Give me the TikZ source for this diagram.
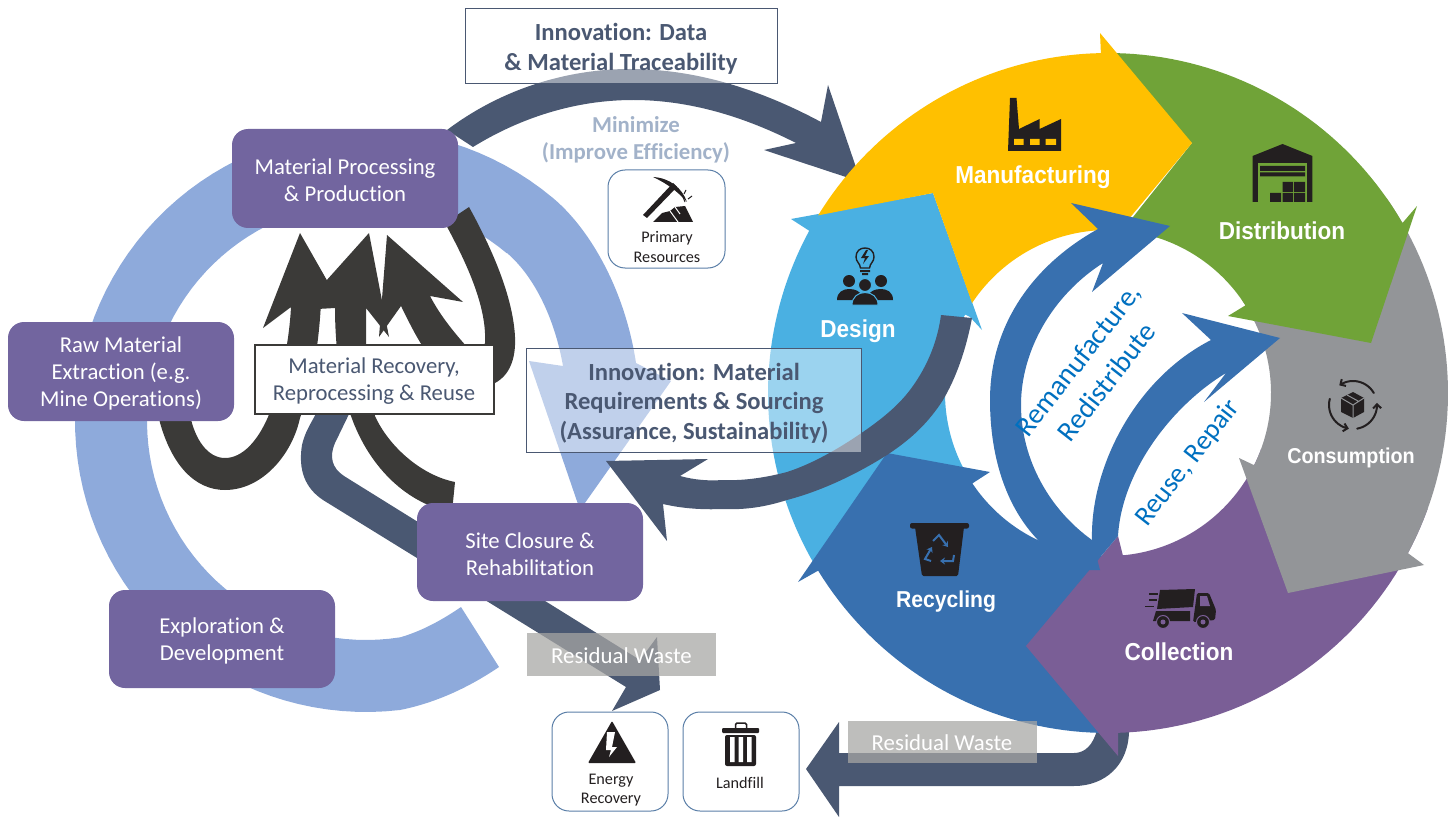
\documentclass[tikz,border=0pt]{standalone}
\usepackage{fontspec}
\setmainfont[Ligatures=NoCommon]{Carlito}
\newfontfamily\labfont[FakeStretch=0.92]{Liberation Sans}
\usetikzlibrary{arrows.meta}
\definecolor{cyellow}{HTML}{FFC000}
\definecolor{cgreen}{HTML}{70A338}
\definecolor{cgray}{HTML}{939598}
\definecolor{cpurple}{HTML}{7A5E96}
\definecolor{cblue}{HTML}{3870AF}
\definecolor{clight}{HTML}{4AB0E2}
\definecolor{slate}{HTML}{4A5872}
\definecolor{darkarrow}{HTML}{3B3A38}
\definecolor{boxpurple}{HTML}{72659F}
\definecolor{ringblue}{HTML}{8EAADB}
\definecolor{iconblack}{HTML}{231F20}
\definecolor{outlineblue}{HTML}{5B7FA8}
\definecolor{minblue}{HTML}{A2B2C9}
\definecolor{rotblue}{HTML}{0070C0}
\definecolor{wastegray}{HTML}{A7A6A4}
\tikzset{
  pbox/.style={fill=boxpurple,rounded corners=16pt,inner sep=0pt},
  ptxt/.style={text=white,align=center,font=\fontsize{22.7}{27}\selectfont,inner sep=0pt},
  resbox/.style={draw=outlineblue,line width=1pt,fill=white,rounded corners=17pt,inner sep=0pt},
  smalltxt/.style={text=iconblack,align=center,font=\fontsize{16.2}{19.5}\selectfont,inner sep=0pt},
  glassbox/.style={draw=slate,line width=1pt,fill=white,fill opacity=.45,text opacity=1,inner sep=0pt},
  innov/.style={text=slate,align=center,inner sep=0pt,font=\bfseries\fontsize{24.6}{29.5}\selectfont},
  waste/.style={fill=wastegray,fill opacity=.735,inner sep=0pt},
  wastetxt/.style={text=white,inner sep=0pt,font=\fontsize{22.8}{25}\selectfont},
  lab/.style={text=white,inner sep=0pt,font=\labfont\bfseries\fontsize{24.5}{28}\selectfont},
  rottxt/.style={text=rotblue,align=center,inner sep=0pt,font=\fontsize{28.5}{36}\selectfont},
  ic/.style={fill=iconblack},
}
\begin{document}
\begin{tikzpicture}[x=1pt,y=-1pt]
\useasboundingbox (0,0) rectangle (1455,818);
% ---- left side arrows
\fill[slate] (447,130) .. controls (500,90) and (565,69) .. (630,69) .. controls (700,69) and (765,92) .. (821,122) -- (828,85) -- (861,182) -- (764,150) -- (796,143) .. controls (745,117) and (690,100) .. (633,100) .. controls (575,100) and (520,118) .. (473,147) -- cycle;
\fill[ringblue] (499,667) .. controls (468,688) and (435,703) .. (400,710) -- plot[domain=83.3:310,samples=80] ({366+291*cos(\x)},{421+291*sin(\x)}) .. controls (590,229) and (625,290) .. (636,363) -- (671,381) -- (580,510) -- (529,361) -- (563,366) .. controls (555,320) and (535,277) .. (507,253) -- plot[domain=310:81,samples=80] ({366+219*cos(\x)},{421+219*sin(\x)}) .. controls (422,631) and (442,620) .. (461,607) -- cycle;
% residual arrow left
\fill[slate] (351,410) -- (335,443) .. controls (329,457) and (332,468) .. (344,476) -- (640,660) -- (657,637) -- (660,690) -- (612,711) -- (626,687) -- (323,500) .. controls (305,488) and (298,470) .. (302,445) .. controls (305,432) and (310,425) .. (318,410) -- cycle;
% dark recovery arrows
\fill[darkarrow] (158,415) .. controls (170,465) and (195,490) .. (225,490) .. controls (262,490) and (292,455) .. (300,418) .. controls (312,385) and (319,345) .. (321,302) -- (345,312) -- (300,233) -- (263,328) -- (291,307) .. controls (289,345) and (280,385) .. (268,417) .. controls (258,440) and (243,458) .. (225,458) .. controls (208,458) and (195,440) .. (190,415) -- cycle;
\fill[darkarrow] (452,512) .. controls (410,505) and (370,470) .. (351,416) .. controls (340,390) and (335,345) .. (335,308) -- (300,310) -- (369,233) -- (389,337) -- (366,308) -- (366,343) .. controls (366,375) and (370,400) .. (375,416) .. controls (388,445) and (420,475) .. (455,482) -- cycle;
\fill[darkarrow] (425,350) .. controls (415,335) and (408,320) .. (401,306) -- (379,337) -- (387,235) -- (463,302) -- (430,296) .. controls (440,315) and (452,330) .. (467,347) -- cycle;
\fill[darkarrow] (445,223) .. controls (465,260) and (487,305) .. (485,343) -- (470,385) -- (495,383) .. controls (510,375) and (516,358) .. (515,337) .. controls (513,295) and (490,245) .. (469,207) -- cycle;
% ---- right wheel: residual arrow beneath
\fill[slate] (1097,730) .. controls (1093,745) and (1085,753) .. (1074,753) -- (839,753) -- (839,722) -- (806,769) -- (839,817) -- (839,786) -- (1074,786) .. controls (1105,786) and (1129,765) .. (1129,730) -- cycle;
% light blue: Design
\fill[clight] plot[domain=150:208.5,samples=40] ({1108+340*cos(\x)},{393+340*sin(\x)}) -- (791,219) -- (933,193) -- (982,330) -- (970,317) -- plot[domain=208.8:150,samples=40] ({1108+163*cos(\x)},{393+163*sin(\x)}) -- cycle;
% blue: Recycling
\fill[cblue] plot[domain=88:148.5,samples=40] ({1108+340*cos(\x)},{393+340*sin(\x)}) -- (798,582) -- (887,453) -- (990,472) -- (973,483) -- plot[domain=146.3:84,samples=40] ({1108+163*cos(\x)},{393+163*sin(\x)}) -- cycle;
% purple: Collection
\fill[cpurple] plot[domain=20:88.3,samples=40] ({1108+340*cos(\x)},{393+340*sin(\x)}) -- (1118,756) -- (1026,646) -- (1118,536) -- (1123,556) -- plot[domain=84.7:20,samples=40] ({1108+163*cos(\x)},{393+163*sin(\x)}) -- cycle;
% gray: Consumption
\fill[cgray] plot[domain=-35:28.1,samples=40] ({1108+340*cos(\x)},{393+340*sin(\x)}) -- (1424,565) -- (1288,593) -- (1239,458) -- (1258,467) -- plot[domain=26.3:-35,samples=40] ({1108+163*cos(\x)},{393+163*sin(\x)}) -- cycle;
% green: Distribution
\fill[cgreen] plot[domain=268:330,samples=40] ({1108+340*cos(\x)},{393+340*sin(\x)}) -- (1417,206) -- (1371,343) -- (1228,316) -- (1246,305) -- plot[domain=327.8:275,samples=40] ({1108+163*cos(\x)},{393+163*sin(\x)}) -- (1192,143) -- (1115,100) -- cycle;
% yellow: Manufacturing
\fill[cyellow] plot[domain=211.5:268.8,samples=40] ({1108+340*cos(\x)},{393+340*sin(\x)}) -- (1100,33) -- (1192,143) -- (1118,232) -- (1101,230) -- plot[domain=267.5:213.5,samples=40] ({1108+163*cos(\x)},{393+163*sin(\x)}) -- (933,193) -- cycle;
% inner arrows
\fill[cblue] (1060,570) -- (1037,539) .. controls (1005,505) and (990,455) .. (990,400) .. controls (990,325) and (1033,265) .. (1098,229) -- (1071,203) -- (1170,226) -- (1092,292) -- (1103,263) .. controls (1053,295) and (1021,350) .. (1021,405) .. controls (1021,460) and (1050,510) .. (1092,540) -- (1100,570) -- cycle;
\fill[cblue] (1092,567) -- (1092,540) .. controls (1090,470) and (1133,380) .. (1211,340) -- (1182,313) -- (1280,338) -- (1204,402) -- (1226,373) .. controls (1173,405) and (1122,470) .. (1118,536) -- cycle;
% arrow from Design
\fill[slate] (972,318) .. controls (966,350) and (956,378) .. (943,400) .. controls (925,428) and (905,443) .. (887,455) .. controls (860,472) and (825,490) .. (787,500) .. controls (765,507) and (745,510) .. (723,509) .. controls (700,510) and (680,508) .. (663,504) -- (667,541) -- (606,461) -- (708,459) -- (680,476) .. controls (695,480) and (708,481) .. (723,480) .. controls (745,481) and (768,477) .. (787,472) .. controls (815,463) and (845,445) .. (870,427) .. controls (888,414) and (900,403) .. (910,390) .. controls (925,370) and (937,345) .. (941,315) -- cycle;
% ---- boxes
\node[pbox,minimum width=226pt,minimum height=99pt] (proc) at (345,178.5) {};
\node[ptxt] (proct) at (345,180) {Material Processing\\\& Production};
\node[pbox,minimum width=226pt,minimum height=99pt] (raw) at (121,371.5) {};
\node[ptxt] (rawt) at (121,373.5) {Raw Material\\Extraction (e.g.\\Mine Operations)};
\node[pbox,minimum width=226pt,minimum height=98pt] (site) at (530,552) {};
\node[ptxt] (sitet) at (530,554) {Site Closure \&\\Rehabilitation};
\node[pbox,minimum width=226pt,minimum height=98pt] (expl) at (222,639) {};
\node[ptxt] (explt) at (222,641) {Exploration \&\\Development};
\node[draw=darkarrow,line width=1.5pt,fill=white,inner sep=0pt,minimum width=239pt,minimum height=69pt] (recov) at (374.5,379.5) {};
\node[ptxt,text=slate] (recovt) at (374,381.5) {Material Recovery,\\Reprocessing \& Reuse};
\node[glassbox,minimum width=312pt,minimum height=75pt] (inno1) at (621.5,46.5) {};
\node[innov] (inno1t) at (621,49) {Innovation: Data\\\& Material Traceability};
\node[glassbox,minimum width=335pt,minimum height=104pt] (inno2) at (693.5,400) {};
\node[innov] (inno2t) at (694,403) {Innovation: Material\\Requirements \& Sourcing\\(Assurance, Sustainability)};
\node[text=minblue,align=center,inner sep=0pt,font=\bfseries\fontsize{22.8}{27}\selectfont] (mini) at (636,139.5) {Minimize\\(Improve Efficiency)};
\node[resbox,minimum width=117pt,minimum height=98pt] (prim) at (666.5,219) {};
\node[smalltxt] (primt) at (667,247) {Primary\\Resources};
\node[resbox,minimum width=116pt,minimum height=99pt] (ener) at (610,761.5) {};
\node[smalltxt,font=\fontsize{16.2}{18.5}\selectfont] (enert) at (611,790) {Energy\\Recovery};
\node[resbox,minimum width=116pt,minimum height=99pt] (land) at (741,761.5) {};
\node[smalltxt] (landt) at (740,783) {Landfill};
\node[waste,minimum width=189pt,minimum height=43pt] (w1) at (621.5,654.5) {};
\node[wastetxt] (w1t) at (621.5,655.5) {Residual Waste};
\node[waste,minimum width=189pt,minimum height=42pt] (w2) at (942.5,742) {};
\node[wastetxt] (w2t) at (942,743) {Residual Waste};
% ---- wheel labels
\node[lab] (l1) at (1033,177) {Manufacturing};
\node[lab] (l2) at (1282,231) {Distribution};
\node[lab,font=\labfont\bfseries\fontsize{21.5}{26}\selectfont] (l3) at (1351,458) {Consumption};
\node[lab] (l4) at (1179,652) {Collection};
\node[lab,font=\labfont\bfseries\fontsize{23}{26}\selectfont] (l5) at (946,602) {Recycling};
\node[lab] (l6) at (858,331) {Design};
\node[rottxt,rotate=52] (r1) at (1092,371) {Remanufacture,\\Redistribute};
\node[rottxt,rotate=52,font=\fontsize{27.5}{33}\selectfont] (r2) at (1188,463) {Reuse, Repair};
% ---- icons
% factory
\begin{scope}[shift={(-2,0)}]
\fill[ic] (1012,98) -- (1018.5,98) -- (1021,129) -- (1041.6,119) -- (1041.6,129) -- (1063,119) -- (1063,151) -- (1010,151) -- cycle;
\fill[cyellow] (1016,139) rectangle (1025.5,145) (1032,139) rectangle (1041.6,145) (1047.5,139) rectangle (1058,145);
\end{scope}
% warehouse
\begin{scope}[shift={(-4,0)}]
\fill[ic] (1286.5,144) -- (1316.4,156) -- (1316.4,202) -- (1256.6,202) -- (1256.6,156) -- cycle;
\fill[cgreen] (1262,163) rectangle (1311,202);
\fill[ic] (1264,166) rectangle (1309,171) (1264,172.5) rectangle (1309,176.5);
\fill[ic] (1286.5,182) rectangle (1297,192) (1298,182) rectangle (1309,192) (1274,193) rectangle (1285,202) (1286.5,193) rectangle (1297,202) (1298,193) rectangle (1309,202);
\end{scope}
% design
\draw[iconblack,line width=1.4pt] (860.5,268) .. controls (860,263) and (856,262) .. (856,257) .. controls (856,251) and (860,248) .. (865,248) .. controls (870,248) and (874,251) .. (874,257) .. controls (874,262) and (870,263) .. (869.5,268) -- cycle;
\fill[ic] (866,250) -- (861,258) -- (865,258) -- (863,264) -- (869,256) -- (865,256) -- (868,250) -- cycle;
\fill[ic] (860,270) rectangle (870,272) (862,273) rectangle (868,275);
\fill[ic] (849,281) circle[radius=6pt] (881,281) circle[radius=6pt];
\fill[ic] (837,300) .. controls (837,292) and (843,289) .. (849,289) .. controls (855,289) and (860,291) .. (862,296) -- (853,300) -- cycle;
\fill[ic] (893,300) .. controls (893,292) and (887,289) .. (881,289) .. controls (875,289) and (870,291) .. (868,296) -- (877,300) -- cycle;
\fill[ic,draw=clight,line width=1pt] (865,285) circle[radius=6.5pt];
\fill[ic,draw=clight,line width=1pt] (852,305) .. controls (852,297) and (858,292.5) .. (865,292.5) .. controls (872,292.5) and (878,297) .. (878,305) -- cycle;
% bin
\fill[ic,rounded corners=2pt] (910,523) rectangle (969,528.5);
\fill[ic,rounded corners=1.5pt] (915,527) -- (964,527) -- (958,576) -- (922,576) -- cycle;
\begin{scope}[cblue,line width=2pt,-{Stealth[length=5pt,width=7pt]}]
\draw (933,541) -- (939,535) -- (948,547);
\draw (954,555) -- (953,561) -- (940,561);
\draw (931,561) -- (925,559) -- (932,547);
\end{scope}
% truck
\begin{scope}[shift={(-3,0)}]
\fill[ic] (1163,590) -- (1198,589) -- (1196,607) -- (1160,609) -- cycle;
\fill[ic] (1159,611) -- (1193,611) -- (1193,621) -- (1156,621) -- cycle;
\fill[ic,rounded corners=1.5pt] (1200,593) -- (1212,593) -- (1219,610) -- (1218,620) -- (1196,622) -- cycle;
\fill[cpurple] (1203,596) -- (1210,596) -- (1213,606) -- (1203,606) -- cycle;
\fill[ic,draw=cpurple,line width=1pt] (1166,622) circle[radius=6.5pt] (1206,622) circle[radius=6.5pt];
\fill[cpurple] (1166,622) circle[radius=2.5pt] (1206,622) circle[radius=2.5pt];
\draw[iconblack,line width=1.4pt] (1152,594) -- (1161,594) (1152,600) -- (1160,600) (1148,606.5) -- (1157,606.5);
\end{scope}
% consumption
\fill[ic] (1353,392) -- (1364,398) -- (1364,412) -- (1353,418) -- (1341,412) -- (1341,398) -- cycle;
\draw[cgray,line width=1pt] (1341,398) -- (1353,405) -- (1364,398) (1353,405) -- (1353,418) (1347,395) -- (1358,401);
\begin{scope}[iconblack,line width=2pt,line cap=round]
\draw[-{Straight Barb[length=4pt,width=8pt]}] plot[domain=-30:-125,samples=15] ({1353+24*cos(\x)},{405+24*sin(\x)});
\draw[-{Straight Barb[length=4pt,width=8pt]}] plot[domain=80:-5,samples=15] ({1353+24*cos(\x)},{405+24*sin(\x)});
\draw[-{Straight Barb[length=4pt,width=8pt]}] plot[domain=195:100,samples=15] ({1353+24*cos(\x)},{405+24*sin(\x)});
\end{scope}
% pick
\fill[ic] (643,215) -- (647,218) -- (677,187) -- (673,183) -- cycle;
\fill[ic] (653,177) .. controls (670,178) and (682,188) .. (687,202) .. controls (678,192) and (668,184) .. (653,177) -- cycle;
\fill[ic] (653,222) -- (662,213) -- (670,211) -- (675,207) -- (685,206) -- (693,222) -- cycle;
\draw[white,line width=1pt] (670,211) -- (678,222) (675,207) -- (680,214);
\draw[iconblack,line width=1pt] (685,202) -- (683,197) (688,199) -- (692,196) (684,194) -- (686,190);
% energy
\fill[ic,rounded corners=1pt] (612,721) -- (636,763) -- (588,763) -- cycle;
\fill[white] (607,732) -- (615,732) -- (612,747) -- (617,747) -- (609,757) -- (611,750) -- (606,750) -- cycle;
% trash
\fill[ic,rounded corners=1pt] (722,728) rectangle (759,733);
\draw[iconblack,line width=1.5pt,rounded corners=1.5pt] (735.5,728) -- (735.5,723) -- (746.5,723) -- (746.5,728);
\fill[ic,rounded corners=2pt] (725,735) rectangle (756,766);
\fill[white] (730,737) rectangle (734.5,762) (738.5,737) rectangle (743,762) (747,737) rectangle (751.5,762);
\end{tikzpicture}
\end{document}
